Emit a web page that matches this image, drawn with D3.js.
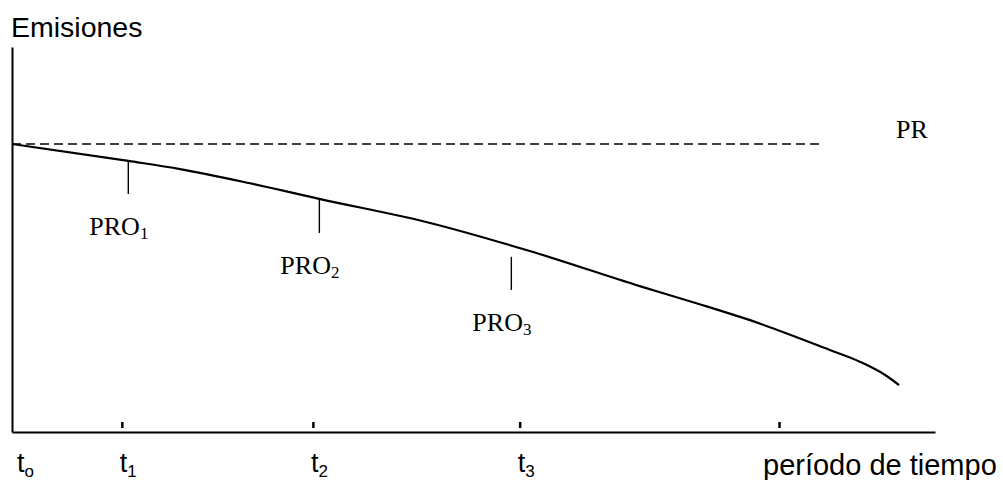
<!DOCTYPE html>
<html>
  <head>
    <meta http-equiv="Content-Type" content="text/html;charset=utf-8"/>
    <title>Emisiones</title>
    <script src="https://d3js.org/d3.v7.min.js" charset="utf-8"></script>
    <style>
      body { margin: 0; background: #fff; }
      .sans { font-family: "Liberation Sans", Arial, sans-serif; fill: #000; }
      .serif { font-family: "Liberation Serif", "Times New Roman", serif; fill: #000; }
      .axis path { stroke: #000; stroke-width: 2px; }
      .axis line { stroke: #000; stroke-width: 2.5px; }
    </style>
  </head>
  <body>
    <div id="chart"></div>
  <script>
  ////////////////////////////////////////////////////////////
  //////////////////////// Data //////////////////////////////
  ////////////////////////////////////////////////////////////

  // emissions curve (time, emissions)
  var curveTime = [0, 12.6, 18.2, 25.8, 33.4, 45.3, 56.1, 68.0, 74.5, 80.5, 88.6, 91.9, 94.6, 96.1];
  var curveEmis = [74.8, 70.4, 68.3, 64.6, 60.5, 54.3, 47.0, 37.9, 33.2, 28.6, 21.3, 18.2, 14.8, 12.2];

  // reference level PR
  var prLevel = 74.8;
  var prEnd = 87.5;

  // PRO markers
  var proLabels = ["1", "2", "3"];
  var proTime = [12.6, 33.3, 54.1];
  var proTop = [70.1, 60.5, 45.5];
  var proBottom = [61.8, 51.7, 36.9];

  // time ticks
  var tickTime = [11.9, 32.6, 55.0, 83.1];
  var tickLabels = ["o", "1", "2", "3"];
  var tickLabelTime = [0, 11.9, 32.6, 55.0];

  ////////////////////////////////////////////////////////////
  //////////////////////// Set-Up ////////////////////////////
  ////////////////////////////////////////////////////////////

  var width = 1003, height = 480;

  var x = d3.scaleLinear().domain([0, 100]).range([12, 935]);
  var y = d3.scaleLinear().domain([0, 100]).range([432, 47]);

  var svg = d3.select("#chart").append("svg")
              .attr("width", width)
              .attr("height", height);

  // axes
  var xAxis = svg.append("g")
                 .attr("class", "axis")
                 .attr("transform", "translate(0," + y(0) + ")")
                 .call(d3.axisBottom(x).tickValues(tickTime).tickSizeOuter(0).tickFormat(""));
  xAxis.selectAll(".tick line").attr("y1", -4).attr("y2", -10);

  svg.append("g")
     .attr("class", "axis")
     .attr("transform", "translate(" + x(0) + ",0)")
     .call(d3.axisLeft(y).tickValues([]).tickSizeOuter(0));

  // axis titles
  svg.append("text")
     .attr("class", "sans")
     .attr("x", 11).attr("y", 37)
     .style("font-size", "28.5px")
     .text("Emisiones");

  svg.append("text")
     .attr("class", "sans")
     .attr("x", 763).attr("y", 475)
     .style("font-size", "29px")
     .text("período de tiempo");

  // tick labels t0..t3
  var tl = svg.selectAll("text.tlabel")
              .data(tickLabels)
              .enter().append("text")
              .attr("class", "sans tlabel")
              .attr("x", function(d, i) { return x(tickLabelTime[i]) + (i == 0 ? 5 : -2); })
              .attr("y", 472)
              .style("font-size", "27px");
  tl.append("tspan").text("t");
  tl.append("tspan").attr("dy", 5).style("font-size", "17px").text(function(d) { return d; });

  // PR dashed line
  svg.append("line")
     .attr("x1", x(0)).attr("x2", x(prEnd))
     .attr("y1", y(prLevel)).attr("y2", y(prLevel))
     .attr("stroke", "#000")
     .attr("stroke-width", 1.5)
     .attr("stroke-dasharray", "9,5");

  svg.append("text")
     .attr("class", "serif")
     .attr("x", 896).attr("y", 138)
     .style("font-size", "26px")
     .text("PR");

  // emissions curve
  var line = d3.line()
               .x(function(d) { return x(d[0]); })
               .y(function(d) { return y(d[1]); })
               .curve(d3.curveMonotoneX);

  svg.append("path")
     .datum(d3.zip(curveTime, curveEmis))
     .attr("d", line)
     .attr("fill", "none")
     .attr("stroke", "#000")
     .attr("stroke-width", 2.2);

  // PRO markers
  svg.selectAll("line.pro")
     .data(proTime)
     .enter().append("line")
     .attr("class", "pro")
     .attr("x1", function(d) { return x(d); })
     .attr("x2", function(d) { return x(d); })
     .attr("y1", function(d, i) { return y(proTop[i]); })
     .attr("y2", function(d, i) { return y(proBottom[i]); })
     .attr("stroke", "#000")
     .attr("stroke-width", 1.4);

  var pl = svg.selectAll("text.pro")
              .data(proLabels)
              .enter().append("text")
              .attr("class", "serif pro")
              .attr("x", function(d, i) { return x(proTime[i]) - 39; })
              .attr("y", function(d, i) { return y(proBottom[i]) + 41; })
              .style("font-size", "26px");
  pl.append("tspan").text("PRO");
  pl.append("tspan").attr("dy", 4).style("font-size", "17px").text(function(d) { return d; });
  </script>
  </body>
</html>
